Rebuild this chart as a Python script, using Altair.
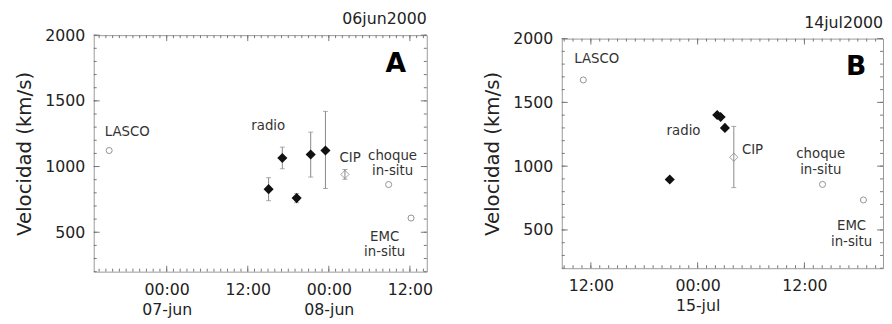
import altair as alt
import pandas as pd

FONT = "DejaVu Sans"

# ---------------- Panel A : 06jun2000 ----------------
A_radio_time = ["2000-06-07T15:05:00Z", "2000-06-07T17:07:00Z", "2000-06-07T19:14:00Z",
                "2000-06-07T21:19:00Z", "2000-06-07T23:30:00Z"]
A_radio_v = [828, 1065, 760, 1092, 1122]
A_radio_lo = [740, 983, 725, 920, 833]
A_radio_hi = [915, 1148, 795, 1262, 1420]

A_obs_name = ["LASCO", "choque in-situ", "EMC in-situ"]
A_obs_time = ["2000-06-06T15:29:00Z", "2000-06-08T08:51:00Z", "2000-06-08T12:10:00Z"]
A_obs_v = [1122, 863, 608]

A_cip_time = ["2000-06-08T02:23:00Z"]
A_cip_v = [940]
A_cip_lo = [903]
A_cip_hi = [978]

A_lab_text = ["LASCO", "radio", "CIP", "choque\nin-situ", "EMC\nin-situ"]
A_lab_time = ["2000-06-06T18:10:00Z", "2000-06-07T15:02:00Z", "2000-06-08T03:09:00Z",
              "2000-06-08T09:26:00Z", "2000-06-08T08:16:00Z"]
A_lab_v = [1262, 1307, 1067, 1082, 467]

A_letter = ["A"]
A_letter_time = ["2000-06-08T09:54:00Z"]
A_letter_v = [1780]

A_title = "06jun2000"
A_domain = ["2000-06-06T13:12:00Z", "2000-06-08T14:30:00Z"]

# ---------------- Panel B : 14jul2000 ----------------
B_radio_time = ["2000-07-14T20:52:00Z", "2000-07-15T02:12:00Z", "2000-07-15T02:35:00Z",
                "2000-07-15T03:04:00Z"]
B_radio_v = [896, 1401, 1385, 1300]
B_radio_lo = [896, 1401, 1385, 1300]
B_radio_hi = [896, 1401, 1385, 1300]

B_obs_name = ["LASCO", "choque in-situ", "EMC in-situ"]
B_obs_time = ["2000-07-14T11:09:00Z", "2000-07-15T14:02:00Z", "2000-07-15T18:38:00Z"]
B_obs_v = [1676, 857, 735]

B_cip_time = ["2000-07-15T04:04:00Z"]
B_cip_v = [1070]
B_cip_lo = [832]
B_cip_hi = [1312]

B_lab_text = ["LASCO", "radio", "CIP", "choque\nin-situ", "EMC\nin-situ"]
B_lab_time = ["2000-07-14T12:40:00Z", "2000-07-14T22:25:00Z", "2000-07-15T06:10:00Z",
              "2000-07-15T13:50:00Z", "2000-07-15T17:18:00Z"]
B_lab_v = [1840, 1278, 1130, 1091, 532]

B_letter = ["B"]
B_letter_time = ["2000-07-15T17:49:00Z"]
B_letter_v = [1778]

B_title = "14jul2000"
B_domain = ["2000-07-14T08:44:00Z", "2000-07-15T20:50:00Z"]

Y_DOMAIN = [200, 2000]
Y_MAJOR = [500, 1000, 1500, 2000]
Y_MINOR = list(range(200, 2001, 100))


def ms(s):
    return int(pd.Timestamp(s).value // 10**6)


LABEL_EXPR = ("utchours(datum.value) == 0 ? [utcFormat(datum.value, '%H:%M'), "
              "lower(utcFormat(datum.value, '%d-%b'))] : utcFormat(datum.value, '%H:%M')")

TICK_COLOR = "#777"


def panel(radio_time, radio_v, radio_lo, radio_hi, obs_time, obs_v,
          cip_time, cip_v, cip_lo, cip_hi, lab_text, lab_time, lab_v,
          letter, letter_time, letter_v, title, domain, W, H):
    d0, d1 = ms(domain[0]), ms(domain[1])
    xs = alt.Scale(type="utc", domain=[d0, d1])
    ys = alt.Scale(domain=Y_DOMAIN, nice=False, zero=False)
    hours = pd.date_range(pd.Timestamp(domain[0]).ceil("h"), pd.Timestamp(domain[1]), freq="h")
    x_minor = [h.strftime("%Y-%m-%dT%H:%M:%SZ") for h in hours]
    x_major = [h.strftime("%Y-%m-%dT%H:%M:%SZ") for h in hours if h.hour % 12 == 0]
    x_major_ms = [ms(s) for s in x_major]

    radio = pd.DataFrame({"t": radio_time, "v": radio_v, "lo": radio_lo, "hi": radio_hi})
    obs = pd.DataFrame({"t": obs_time, "v": obs_v})
    cip = pd.DataFrame({"t": cip_time, "v": cip_v, "lo": cip_lo, "hi": cip_hi})
    labs = pd.DataFrame({"t": lab_time, "v": lab_v, "txt": lab_text})
    let = pd.DataFrame({"t": letter_time, "v": letter_v, "txt": letter})
    err = pd.concat([radio[["t", "lo", "hi"]], cip[["t", "lo", "hi"]]], ignore_index=True)
    err = err[err["hi"] > err["lo"]]

    def X(field="t", axis=None):
        if axis is None:
            return alt.X(f"{field}:T", scale=xs, axis=None)
        return alt.X(f"{field}:T", scale=xs, axis=axis)

    def Y(field="v", axis=None):
        if axis is None:
            return alt.Y(f"{field}:Q", scale=ys, axis=None)
        return alt.Y(f"{field}:Q", scale=ys, axis=axis)

    main_x_axis = alt.Axis(values=x_major_ms, labelExpr=LABEL_EXPR, ticks=False, domain=False,
                           grid=False, labelPadding=10, labelFontSize=16, labelColor="#222",
                           labelLineHeight=20, labelFont=FONT, title=None, labelFlush=False,
                           labelOverlap=False)
    main_y_axis = alt.Axis(values=Y_MAJOR, format="d", ticks=False, domain=False, grid=False,
                           labelPadding=9, labelFontSize=16, labelColor="#222", labelFont=FONT,
                           title="Velocidad (km/s)", titleFontSize=20, titleFontWeight="normal",
                           titleColor="#222", titleFont=FONT, titlePadding=10)

    obs_layer = alt.Chart(obs).mark_point(shape="circle", size=38, filled=False,
                                          color="#666", strokeWidth=1).encode(
        x=X(axis=main_x_axis), y=Y(axis=main_y_axis))

    rules = alt.Chart(err).mark_rule(color="#888", strokeWidth=1).encode(
        x=X(), y=Y("lo"), y2="hi:Q")
    cap_lo = alt.Chart(err).mark_tick(orient="horizontal", color="#888", size=5,
                                      thickness=1).encode(x=X(), y=Y("lo"))
    cap_hi = alt.Chart(err).mark_tick(orient="horizontal", color="#888", size=5,
                                      thickness=1).encode(x=X(), y=Y("hi"))

    cip_layer = alt.Chart(cip).mark_point(shape="diamond", size=70, filled=False,
                                          color="#777", strokeWidth=1).encode(x=X(), y=Y())
    radio_layer = alt.Chart(radio).mark_point(shape="diamond", size=105, filled=True,
                                              color="#111", opacity=1).encode(x=X(), y=Y())

    text_layer = alt.Chart(labs).mark_text(font=FONT, fontSize=13.5, color="#333",
                                           lineBreak="\n", lineHeight=16,
                                           baseline="middle", align="center").encode(
        x=X(), y=Y(), text="txt:N")
    letter_layer = alt.Chart(let).mark_text(font=FONT, fontSize=27, fontWeight="bold",
                                            color="#000", baseline="middle",
                                            align="center").encode(x=X(), y=Y(), text="txt:N")

    # inward tick marks on all four edges of the frame (short rules from the edge)
    def xticks(vals, size):
        df = pd.DataFrame({"t": vals, "vb": Y_DOMAIN[0], "vt": Y_DOMAIN[1]})
        bot = alt.Chart(df).mark_rule(color=TICK_COLOR, strokeWidth=1, y2Offset=-size).encode(
            x=X(), y=Y("vb"), y2="vb:Q")
        top = alt.Chart(df).mark_rule(color=TICK_COLOR, strokeWidth=1, y2Offset=size).encode(
            x=X(), y=Y("vt"), y2="vt:Q")
        return [bot, top]

    def yticks(vals, size):
        df = pd.DataFrame({"v": vals, "tl": domain[0], "tr": domain[1]})
        left = alt.Chart(df).mark_rule(color=TICK_COLOR, strokeWidth=1, x2Offset=size).encode(
            x=X("tl"), x2="tl:T", y=Y())
        right = alt.Chart(df).mark_rule(color=TICK_COLOR, strokeWidth=1, x2Offset=-size).encode(
            x=X("tr"), x2="tr:T", y=Y())
        return [left, right]

    tick_layers = (xticks(x_minor, 3) + xticks(x_major, 6)
                   + yticks(Y_MINOR, 3) + yticks(Y_MAJOR, 6))

    return alt.layer(obs_layer, *tick_layers, rules, cap_lo, cap_hi, cip_layer, radio_layer,
                     text_layer, letter_layer).resolve_axis(
        x="independent", y="independent").properties(
        width=W, height=H,
        title=alt.TitleParams(title, anchor="end", frame="group", fontSize=16,
                              fontWeight="normal", font=FONT, color="#222", offset=0))


pA = panel(A_radio_time, A_radio_v, A_radio_lo, A_radio_hi, A_obs_time, A_obs_v,
           A_cip_time, A_cip_v, A_cip_lo, A_cip_hi, A_lab_text, A_lab_time, A_lab_v,
           A_letter, A_letter_time, A_letter_v, A_title, A_domain, 338, 240)
pB = panel(B_radio_time, B_radio_v, B_radio_lo, B_radio_hi, B_obs_time, B_obs_v,
           B_cip_time, B_cip_v, B_cip_lo, B_cip_hi, B_lab_text, B_lab_time, B_lab_v,
           B_letter, B_letter_time, B_letter_v, B_title, B_domain, 326, 233)

chart = alt.hconcat(pA, pB, spacing=49, center=True).properties(
    padding={"left": 6, "top": 0, "right": 0, "bottom": 0}
).configure_view(stroke="#999", strokeWidth=1).configure_axis(grid=False)

chart.save("out.html", embed_options={"renderer": "svg", "actions": False})
